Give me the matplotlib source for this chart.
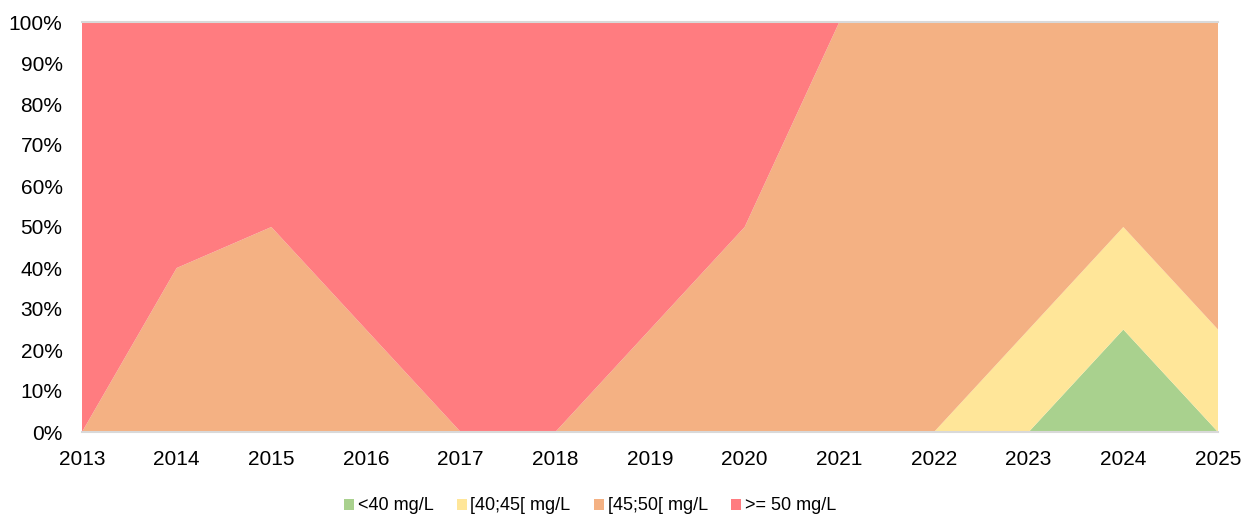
import matplotlib
matplotlib.use("Agg")
import matplotlib.pyplot as plt
from matplotlib.patches import Patch
import numpy as np

years = [2013, 2014, 2015, 2016, 2017, 2018, 2019, 2020, 2021, 2022, 2023, 2024, 2025]
lt40 = [0, 0, 0, 0, 0, 0, 0, 0, 0, 0, 0, 25, 0]
s40_45 = [0, 0, 0, 0, 0, 0, 0, 0, 0, 0, 25, 25, 25]
s45_50 = [0, 40, 50, 25, 0, 0, 25, 50, 100, 100, 75, 50, 75]
ge50 = [100, 60, 50, 75, 100, 100, 75, 50, 0, 0, 0, 0, 0]
labels = ["<40 mg/L", "[40;45[ mg/L", "[45;50[ mg/L", ">= 50 mg/L"]
colors = ["#A9D18E", "#FFE699", "#F4B183", "#FF7C80"]

plt.rcParams['font.family'] = ['Liberation Sans', 'DejaVu Sans']

fig = plt.figure(figsize=(12.45, 5.18), dpi=100)
ax = fig.add_axes([82/1245, 1-432/518, (1218-82)/1245, (432-22)/518])

series = [np.array(lt40), np.array(s40_45), np.array(s45_50), np.array(ge50)]
ax.stackplot(years, *series, colors=colors, labels=labels, linewidth=0)

ax.set_xlim(2013, 2025)
ax.set_ylim(0, 100)
ax.set_xticks(years)
ax.set_xticklabels([str(y) for y in years])
ax.set_yticks(range(0, 101, 10))
ax.set_yticklabels([f"{v}%" for v in range(0, 101, 10)])
ax.tick_params(axis='both', length=0, labelsize=15, colors='black')
ax.tick_params(axis='x', pad=13)
ax.tick_params(axis='y', pad=14)
for s in ['left', 'right']:
    ax.spines[s].set_visible(False)
for s in ['top', 'bottom']:
    ax.spines[s].set_color('#D9D9D9')
    ax.spines[s].set_linewidth(1.5)

handles = [Patch(facecolor=c, edgecolor='none') for c in colors]
fig.legend(handles, labels, loc='center', bbox_to_anchor=(590/1245, 1-506/518),
           ncol=4, frameon=False, fontsize=13, handlelength=0.55, handleheight=0.55,
           handletextpad=0.2, columnspacing=1.3, borderpad=0, borderaxespad=0)

fig.savefig("out.png", dpi=100)
